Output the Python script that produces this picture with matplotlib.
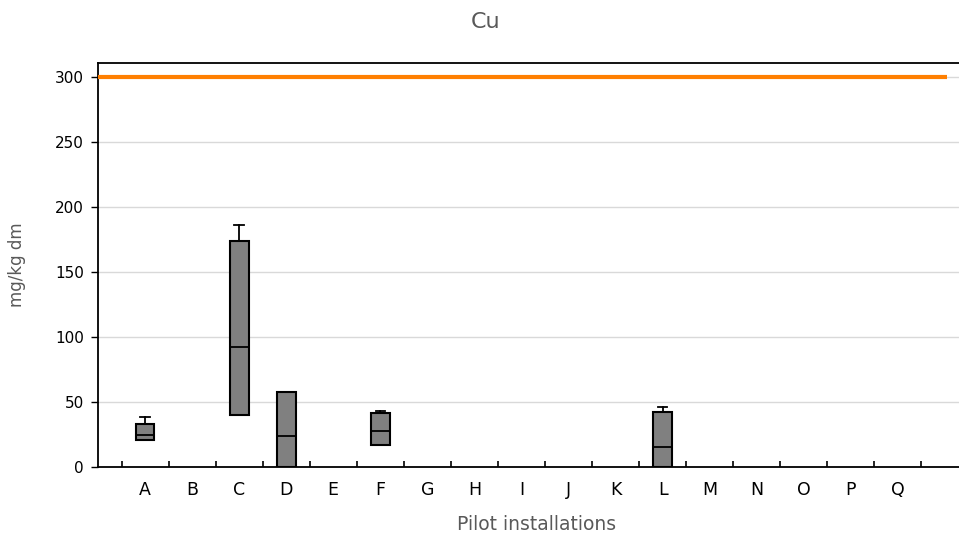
import numpy as np
import matplotlib
matplotlib.use('Agg')
import matplotlib.pyplot as plt

categories = list('ABCDEFGHIJKLMNOPQ')
# box stats for installations with data
box_labels = ['A', 'C', 'D', 'F', 'L']
q1 = [20.5, 40.0, 0.0, 16.7, 0.0]
med = [25.0, 92.3, 23.8, 27.7, 15.2]
q3 = [32.8, 173.8, 57.9, 41.8, 42.0]
whisk_hi = [38.2, 186.0, 57.9, 43.3, 45.9]
limit_value = 300

fig = plt.figure(figsize=(9.59, 5.39), dpi=100)
ax = fig.add_axes([98 / 959, 72 / 539, 1 - 98 / 959, (467 - 63) / 539])

pos = np.arange(1, len(categories) + 1)
stats = []
for lab, a, m, b, w in zip(box_labels, q1, med, q3, whisk_hi):
    stats.append(dict(label=lab, q1=a, med=m, q3=b, whislo=a, whishi=w))
box_pos = [categories.index(l) + 1 for l in box_labels]

ax.bxp(stats, positions=box_pos, widths=0.4, patch_artist=True,
       showfliers=False, manage_ticks=False,
       boxprops=dict(facecolor='#808080', edgecolor='black', linewidth=1.5),
       medianprops=dict(color='black', linewidth=1.3),
       whiskerprops=dict(color='black', linewidth=1.3),
       capprops=dict(color='black', linewidth=1.3),
       capwidths=0.2, zorder=3)

ax.plot([0, len(categories) + 1.05], [limit_value, limit_value],
        color='#ff7f00', linewidth=3, zorder=4, solid_capstyle='butt')

ax.set_xlim(0, 18.3)
ax.set_ylim(0, 310.8)
ax.set_yticks(range(0, 301, 50))
ax.yaxis.grid(True, color='#d9d9d9', linewidth=1)
ax.set_axisbelow(True)

ax.set_xticks(pos)
ax.set_xticklabels(categories, fontsize=12.5)
ax.set_xticks(np.arange(0.5, len(categories) + 1, 1), minor=True)
ax.tick_params(axis='x', which='major', length=0, pad=10)
ax.tick_params(axis='x', which='minor', direction='in', length=4, width=1.2)
ax.tick_params(axis='y', direction='out', length=5, width=1, labelsize=11, pad=5)

ax.spines['right'].set_visible(False)
for s in ['left', 'top', 'bottom']:
    ax.spines[s].set_linewidth(1.3)

ax.set_ylabel('mg/kg dm', fontsize=12, color='#595959', labelpad=21)
ax.set_xlabel('Pilot installations', fontsize=13.5, color='#595959')
ax.xaxis.set_label_coords((537 - 98) / (959 - 98), -48 / 404)
fig.text(486 / 959, 1 - 22 / 539, 'Cu', fontsize=16, color='#595959',
         ha='center', va='center')

fig.savefig('out.png', dpi=100)
